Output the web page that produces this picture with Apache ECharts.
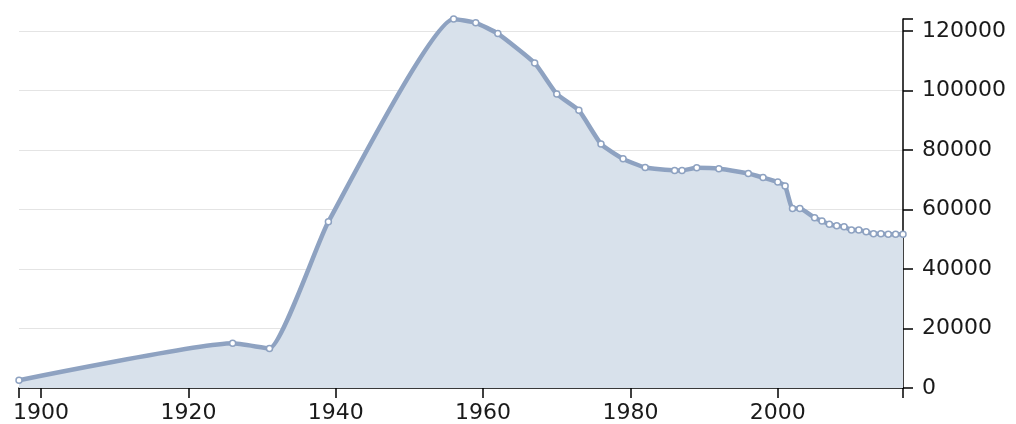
<!DOCTYPE html>
<html>
<head>
<meta charset="utf-8">
<script src="https://cdn.jsdelivr.net/npm/echarts@6/dist/echarts.min.js"></script>
<style>
  html, body { margin: 0; padding: 0; background: #fff; }
  #chart { width: 1016px; height: 424px; }
</style>
</head>
<body>
<div id="chart"></div>
<script>
// population by year
const years = [1897, 1926, 1931, 1939, 1956, 1959, 1962, 1967, 1970, 1973, 1976, 1979,
  1982, 1986, 1987, 1989, 1992, 1996, 1998, 2000, 2001, 2002, 2003, 2005, 2006, 2007,
  2008, 2009, 2010, 2011, 2012, 2013, 2014, 2015, 2016, 2017];
const population = [2600, 15000, 13300, 55900, 124000, 122700, 119100, 109200, 98800, 93300, 82000, 77000,
  74100, 73100, 73100, 74000, 73700, 72100, 70700, 69200, 67900, 60300, 60300, 57200, 56100, 55000,
  54500, 54200, 53100, 53100, 52500, 51800, 51800, 51700, 51700, 51700];

// tick labels
const xLabels = [1900, 1920, 1940, 1960, 1980, 2000];
const xTicks = [1897, 1900, 1920, 1940, 1960, 1980, 2000, 2017];
const yLabels = [0, 20000, 40000, 60000, 80000, 100000, 120000];
const yTicks = [0, 20000, 40000, 60000, 80000, 100000, 120000, 124000];

const lineColor = '#8ea2c1';
const textStyle = { color: '#1a1a1a', fontFamily: 'DejaVu Sans', fontSize: 22 };

const chart = echarts.init(document.getElementById('chart'), null, { renderer: 'canvas' });

const option = {
  animation: false,
  grid: { left: 19, right: 113, top: 19, bottom: 36 },
  xAxis: {
    type: 'value',
    min: 1897,
    max: 2017,
    axisLine: { show: true, lineStyle: { color: '#000', width: 1.5 } },
    axisTick: { show: true, length: 10, customValues: xTicks, lineStyle: { color: '#000', width: 1.5 } },
    axisLabel: Object.assign({ margin: 14, customValues: xLabels, formatter: v => String(v) }, textStyle),
    splitLine: { show: false }
  },
  yAxis: {
    type: 'value',
    position: 'right',
    min: 0,
    max: 124000,
    axisLine: { show: true, lineStyle: { color: '#000', width: 1.5 } },
    axisTick: { show: true, length: 10, customValues: yTicks, lineStyle: { color: '#000', width: 1.5 } },
    axisLabel: Object.assign({ margin: 19, customValues: yLabels, formatter: v => String(v) }, textStyle),
    splitLine: {
      show: true,
      lineStyle: {
        color: ['#e4e4e4', '#e4e4e4', '#e4e4e4', '#e4e4e4', '#e4e4e4', '#e4e4e4', '#e4e4e4', 'rgba(0,0,0,0)'],
        width: 1
      }
    }
  },
  series: [
    {
      type: 'line',
      data: years.map((y, i) => [y, population[i]]),
      smooth: 0.15,
      clip: false,
      lineStyle: { color: lineColor, width: 4.5 },
      areaStyle: { color: '#d8e1eb', opacity: 1 },
      symbol: 'circle',
      symbolSize: 6,
      showAllSymbol: true,
      itemStyle: { color: '#fff', borderColor: lineColor, borderWidth: 1.5 }
    }
  ]
};

chart.setOption(option);
</script>
</body>
</html>
